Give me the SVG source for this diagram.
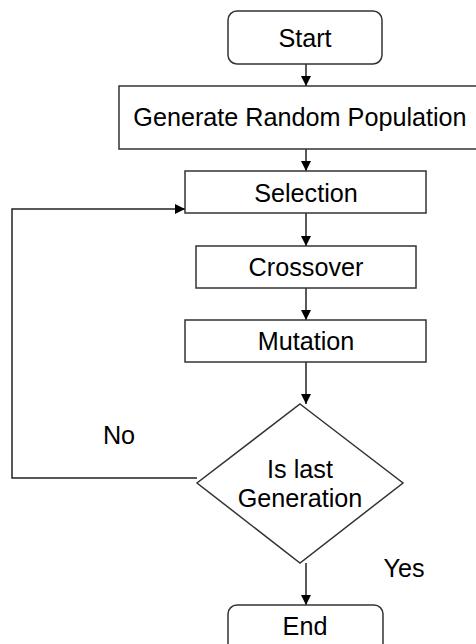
<svg xmlns="http://www.w3.org/2000/svg" width="476" height="644" viewBox="0 0 476 644">
<defs>
<marker id="arr" viewBox="0 0 10 10" refX="10" refY="5" markerWidth="10" markerHeight="10" markerUnits="userSpaceOnUse" orient="auto">
<path d="M0,0 L10,5 L0,10 Z" fill="#000"/>
</marker>
<style>
.box{fill:#fff;stroke:#333;stroke-width:1.5}
.lbl{font-family:"Liberation Sans",Arial,sans-serif;font-size:25.2px;fill:#000;text-anchor:middle}
.ln{fill:none;stroke:#222;stroke-width:1.5}
</style>
</defs>
<rect width="476" height="644" fill="#fff"/>
<g id="connectors">
<line class="ln" x1="306" y1="64" x2="306" y2="86" marker-end="url(#arr)"/>
<line class="ln" x1="306" y1="149" x2="306" y2="171" marker-end="url(#arr)"/>
<line class="ln" x1="306" y1="213" x2="306" y2="246" marker-end="url(#arr)"/>
<line class="ln" x1="306" y1="288" x2="306" y2="320" marker-end="url(#arr)"/>
<line class="ln" x1="306" y1="362" x2="306" y2="404" marker-end="url(#arr)"/>
<line class="ln" x1="306" y1="563" x2="306" y2="605" marker-end="url(#arr)"/>
<path class="ln" d="M197,478 L12,478 L12,209 L185,209" marker-end="url(#arr)"/>
</g>
<g id="start">
<rect class="box" x="228" y="11" width="154" height="53" rx="9"/>
<text class="lbl" x="305" y="47">Start</text>
</g>
<g id="generate">
<rect class="box" x="119" y="86" width="362" height="63"/>
<text class="lbl" x="300" y="126">Generate Random Population</text>
</g>
<g id="selection">
<rect class="box" x="185" y="171" width="241" height="42"/>
<text class="lbl" x="306" y="202">Selection</text>
</g>
<g id="crossover">
<rect class="box" x="196" y="246" width="220" height="42"/>
<text class="lbl" x="306" y="276">Crossover</text>
</g>
<g id="mutation">
<rect class="box" x="185" y="320" width="241" height="42"/>
<text class="lbl" x="306" y="350">Mutation</text>
</g>
<g id="decision">
<polygon class="box" points="300,404 403,483 300,563 197,483"/>
<text class="lbl" x="300" y="478">Is last</text>
<text class="lbl" x="300" y="507">Generation</text>
</g>
<g id="end">
<rect class="box" x="228" y="605" width="155" height="50" rx="9"/>
<text class="lbl" x="305" y="635">End</text>
</g>
<text class="lbl" x="119" y="444">No</text>
<text class="lbl" x="404" y="577">Yes</text>
</svg>
